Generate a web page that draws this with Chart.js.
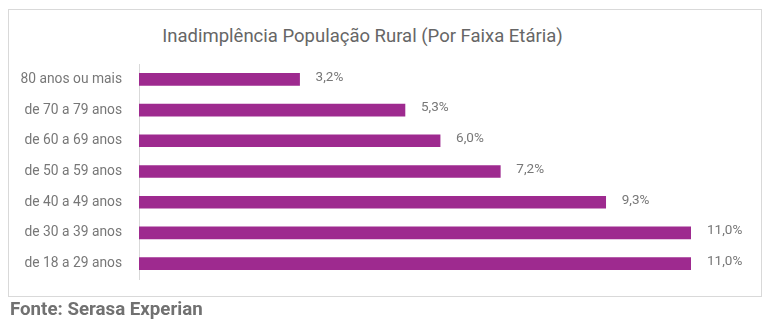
<!DOCTYPE html>
<html>
<head>
<meta charset="utf-8">
<script src="https://cdn.jsdelivr.net/npm/chart.js@4.4.1/dist/chart.umd.min.js"></script>
<style>
  html, body { margin: 0; padding: 0; background: #fff; }
  body { width: 775px; height: 327px; position: relative; overflow: hidden; font-family: Roboto, sans-serif; }
  #frame { position: absolute; left: 8px; top: 9px; width: 752px; height: 286px; border: 1px solid #d9d9d9; }
  #title { position: absolute; left: 0; width: 725px; top: 25px; text-align: center; font-size: 18.5px; color: #666; white-space: nowrap; }
  #source { position: absolute; left: 10px; top: 298px; font-size: 18.7px; font-weight: bold; color: #717171; }
  #wrap { position: absolute; left: 0; top: 0; width: 775px; height: 327px; }
</style>
</head>
<body>
<div id="frame"></div>
<div id="title">Inadimplência População Rural (Por Faixa Etária)</div>
<div id="wrap"><canvas id="chart"></canvas></div>
<div id="source">Fonte: Serasa Experian</div>
<script>
// ==================== DATA ====================
const faixas = ['80 anos ou mais', 'de 70 a 79 anos', 'de 60 a 69 anos', 'de 50 a 59 anos', 'de 40 a 49 anos', 'de 30 a 39 anos', 'de 18 a 29 anos'];
const inadimplencia = [3.2, 5.3, 6.0, 7.2, 9.3, 11.0, 11.0];

const barColor = '#9e2a8f';

// value labels to the right of each bar, pt-BR decimal comma
const valueLabels = {
    id: 'valueLabels',
    afterDatasetsDraw(chart) {
        const ctx = chart.ctx;
        const meta = chart.getDatasetMeta(0);
        ctx.save();
        ctx.font = '13.5px Roboto, sans-serif';
        ctx.fillStyle = '#777';
        ctx.textAlign = 'left';
        ctx.textBaseline = 'middle';
        meta.data.forEach((bar, i) => {
            const txt = inadimplencia[i].toFixed(1).replace('.', ',') + '%';
            ctx.fillText(txt, bar.x + 16, bar.y - 2);
        });
        ctx.restore();
    }
};

new Chart(document.getElementById('chart'), {
    type: 'bar',
    data: {
        labels: faixas,
        datasets: [{
            data: inadimplencia,
            backgroundColor: barColor,
            barThickness: 12
        }]
    },
    options: {
        indexAxis: 'y',
        responsive: true,
        maintainAspectRatio: false,
        animation: false,
        layout: { padding: { top: 64, bottom: 48, left: 0, right: 84 } },
        plugins: { legend: { display: false }, tooltip: { enabled: false } },
        scales: {
            x: { display: false, min: 0, max: 11 },
            y: {
                afterFit(scale) { scale.width = 139; },
                grid: { display: false },
                border: { display: true, color: '#d9d9d9' },
                ticks: { color: '#777', padding: 9, font: { family: 'Roboto', size: 13.8 } }
            }
        }
    },
    plugins: [valueLabels]
});
</script>
</body>
</html>
